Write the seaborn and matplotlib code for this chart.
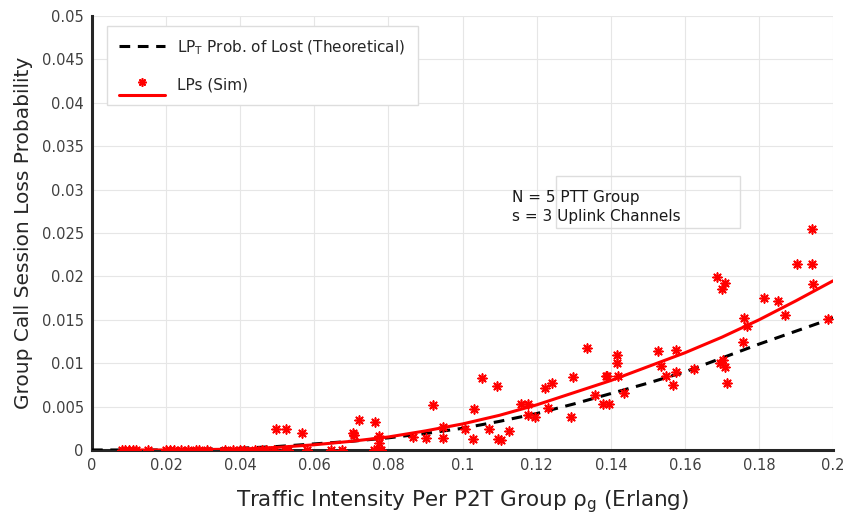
import numpy as np
import pandas as pd
import matplotlib
matplotlib.use("Agg")
import matplotlib.pyplot as plt
import seaborn as sns
from matplotlib.lines import Line2D
from matplotlib.legend_handler import HandlerBase
from matplotlib.patches import Rectangle

# Theoretical loss probability (black dashed)
theo_x = [0.0, 0.01, 0.02, 0.03, 0.04, 0.05, 0.06, 0.07, 0.08, 0.09, 0.10,
          0.11, 0.12, 0.13, 0.14, 0.15, 0.16, 0.17, 0.18, 0.19, 0.20]
theo_y = [0.0, 0.0, 0.0, 0.0001, 0.0002, 0.0004, 0.0007, 0.0010, 0.0014, 0.0019, 0.0025,
          0.0033, 0.0042, 0.0053, 0.0065, 0.0077, 0.0090, 0.0106, 0.0122, 0.0137, 0.0152]

# Fitted curve through simulation points (red solid)
fit_x = [0.008, 0.02, 0.03, 0.04, 0.05, 0.06, 0.07, 0.08, 0.09, 0.10,
         0.11, 0.12, 0.13, 0.14, 0.15, 0.16, 0.17, 0.18, 0.19, 0.20]
fit_y = [0.0, 0.0, 0.00005, 0.0001, 0.0003, 0.0006, 0.0010, 0.0015, 0.0022, 0.0030,
         0.0040, 0.0052, 0.0066, 0.0080, 0.0096, 0.0112, 0.0130, 0.0150, 0.0172, 0.0195]

# Simulated points (red asterisks)
sim_x = [0.008, 0.009, 0.010, 0.011, 0.012, 0.015, 0.020, 0.021, 0.022, 0.024,
         0.026, 0.028, 0.029, 0.031, 0.036, 0.038, 0.040, 0.041, 0.044, 0.046,
         0.047, 0.049, 0.052, 0.053, 0.058, 0.0645, 0.0675, 0.076, 0.0772, 0.078,
         0.0497, 0.0524, 0.0567, 0.0704, 0.0708, 0.0721, 0.0764, 0.0775, 0.0775,
         0.0866, 0.0901, 0.0921, 0.0947, 0.0947, 0.1007, 0.1028, 0.1031, 0.1053,
         0.1072, 0.1093, 0.1096, 0.1104, 0.1126, 0.1158, 0.1177, 0.1177, 0.1196,
         0.1223, 0.1231, 0.1242, 0.1293, 0.1298, 0.1336, 0.1358, 0.1379, 0.1390,
         0.1395, 0.1387, 0.1417, 0.1417, 0.1420, 0.1436,
         0.1528, 0.1536, 0.1549, 0.1568, 0.1576, 0.1576, 0.1625, 0.1687, 0.1700,
         0.1708, 0.1695, 0.1703, 0.1708, 0.1714, 0.1757, 0.1760, 0.1768, 0.1814,
         0.1852, 0.1870, 0.1903, 0.1943, 0.1943, 0.1946, 0.1987]
sim_y = [0.0, 0.0, 0.0, 0.0, 0.0, 0.0, 0.0, 0.0, 0.0, 0.0,
         0.0, 0.0, 0.0, 0.0, 0.0, 0.0, 0.0, 0.0, 0.0, 0.0,
         0.0, 0.0, 0.0, 0.0, 0.0, 0.0, 0.0, 0.0, 0.0, 0.0,
         0.0024, 0.0024, 0.0019, 0.0019, 0.0017, 0.0035, 0.0032, 0.0016, 0.0008,
         0.0015, 0.0014, 0.0052, 0.0014, 0.0026, 0.0024, 0.0013, 0.0047, 0.0083,
         0.0024, 0.0074, 0.0013, 0.0012, 0.0022, 0.0053, 0.0053, 0.0040, 0.0038,
         0.0071, 0.0048, 0.0077, 0.0038, 0.0084, 0.0118, 0.0063, 0.0053, 0.0085,
         0.0053, 0.0085, 0.0109, 0.0100, 0.0085, 0.0066,
         0.0114, 0.0097, 0.0085, 0.0075, 0.0115, 0.0090, 0.0093, 0.0199, 0.0185,
         0.0192, 0.0100, 0.0104, 0.0096, 0.0077, 0.0124, 0.0152, 0.0143, 0.0175,
         0.0172, 0.0156, 0.0214, 0.0255, 0.0214, 0.0191, 0.0151]

x_ticks = [0, 0.02, 0.04, 0.06, 0.08, 0.1, 0.12, 0.14, 0.16, 0.18, 0.2]
x_tick_labels = ["0", "0.02", "0.04", "0.06", "0.08", "0.1", "0.12", "0.14", "0.16", "0.18", "0.2"]
y_ticks = [0, 0.005, 0.01, 0.015, 0.02, 0.025, 0.03, 0.035, 0.04, 0.045, 0.05]
y_tick_labels = ["0", "0.005", "0.01", "0.015", "0.02", "0.025", "0.03", "0.035", "0.04", "0.045", "0.05"]

theo_df = pd.DataFrame({"x": theo_x, "y": theo_y})
fit_df = pd.DataFrame({"x": fit_x, "y": fit_y})
sim_df = pd.DataFrame({"x": sim_x, "y": sim_y})

sns.set_style("whitegrid", {"grid.color": "#e6e6e6", "axes.edgecolor": "#262626"})
plt.rcParams["font.family"] = ["DejaVu Sans"]

STAR = (8, 2, 0)

fig = plt.figure(figsize=(8.48, 5.19), dpi=100)
ax = fig.add_axes([0.1085, 0.133, 0.874, 0.836])

sns.lineplot(data=theo_df, x="x", y="y", ax=ax, color="black", linewidth=2.2,
             linestyle=(0, (3.5, 2.5)), zorder=3)
sns.lineplot(data=fit_df, x="x", y="y", ax=ax, color="red", linewidth=2.2, zorder=4)
sns.scatterplot(data=sim_df, x="x", y="y", ax=ax, marker=STAR, color="red",
                s=40, linewidth=1.2, zorder=5)

ax.set_xlim(0, 0.2)
ax.set_ylim(0, 0.05)
ax.set_xticks(x_ticks)
ax.set_xticklabels(x_tick_labels, fontsize=10.5, color="#404040")
ax.set_yticks(y_ticks)
ax.set_yticklabels(y_tick_labels, fontsize=10.5, color="#404040")
ax.tick_params(direction="in", length=7, width=1.8, color="#262626", pad=6)
for side in ["top", "right"]:
    ax.spines[side].set_visible(False)
for side in ["left", "bottom"]:
    ax.spines[side].set_linewidth(2.2)

ax.set_xlabel(r"Traffic Intensity Per P2T Group $\mathregular{\rho_g}$ (Erlang)",
              fontsize=15.5, color="#262626", labelpad=11)
ax.set_ylabel("Group Call Session Loss Probability", fontsize=14.5,
              color="#262626", labelpad=6)


class StarOverLine(HandlerBase):
    def create_artists(self, legend, orig_handle, xdescent, ydescent,
                       width, height, fontsize, trans):
        star = Line2D([width / 2], [height * 0.75], marker=STAR, color="red",
                      markersize=6, markeredgewidth=1.2, linestyle="none",
                      transform=trans)
        line = Line2D([0, width], [-height * 0.45, -height * 0.45], color="red",
                      linewidth=2.2, transform=trans)
        return [star, line]


theo_handle = Line2D([], [], color="black", linewidth=2.2, linestyle=(0, (3.5, 2.5)))
sim_handle = Line2D([], [], color="red")
leg = ax.legend([theo_handle, sim_handle],
                [r"LP$_\mathregular{T}$ Prob. of Lost (Theoretical)", "LPs (Sim)"],
                loc="upper left", bbox_to_anchor=(0.01, 0.995),
                handler_map={sim_handle: StarOverLine()},
                fontsize=11, handlelength=3.0, labelspacing=1.4,
                borderpad=0.8, frameon=True, fancybox=False,
                edgecolor="#dddddd", framealpha=1)
leg.get_frame().set_linewidth(1.0)

ax.text(0.567, 0.56, "N = 5 PTT Group\ns = 3 Uplink Channels",
        transform=ax.transAxes, fontsize=11, color="#1a1a1a",
        va="center", ha="left", linespacing=1.35, zorder=6)
ax.add_patch(Rectangle((0.626, 0.512), 0.248, 0.119, transform=ax.transAxes,
                       fill=False, edgecolor="#dddddd", linewidth=1.0, zorder=6))

fig.savefig("out.png", dpi=100)
